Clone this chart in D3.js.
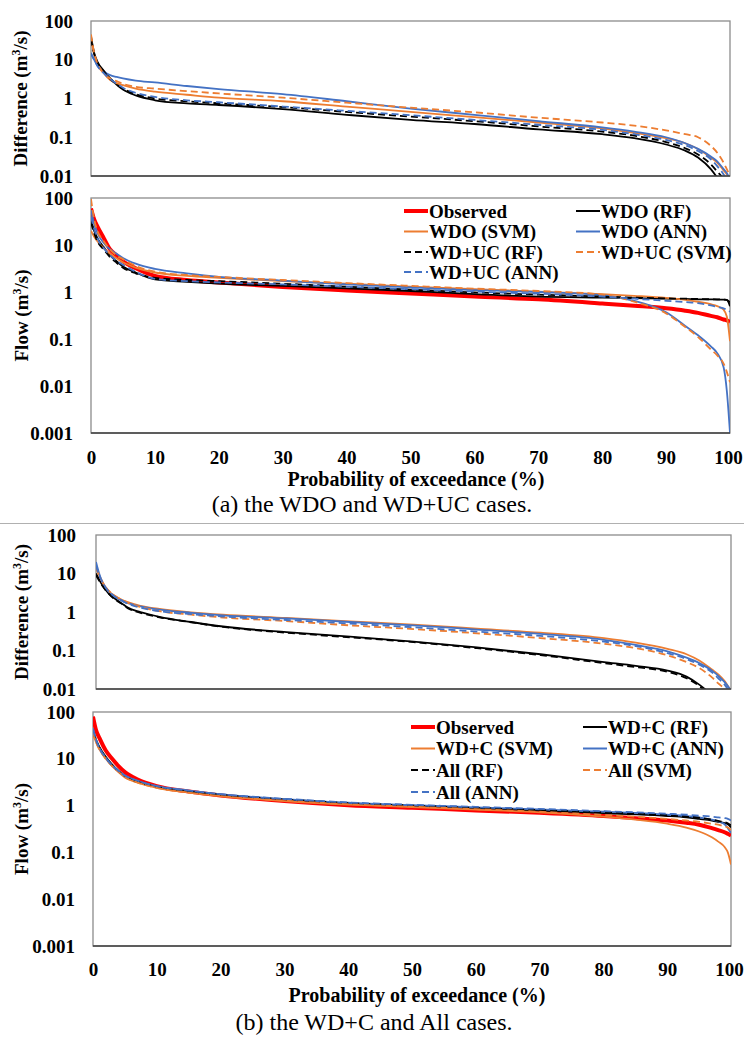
<!DOCTYPE html>
<html><head><meta charset="utf-8">
<script src="https://cdn.jsdelivr.net/npm/d3@7"></script>
<style>
html,body{margin:0;padding:0;background:#fff;}
svg{display:block;}
text{font-family:"Liberation Serif","Times New Roman",serif;}
</style></head>
<body>
<svg id="chart" width="744" height="1037"></svg>
<script>
// ---------- DATA ----------
const probs = [0, 0.5, 1, 2, 3, 4, 5, 7, 10, 15, 20, 30, 40, 50, 60, 70, 80, 85, 90, 93, 95, 97, 98, 99, 99.5, 100];
const xTicks = [0, 10, 20, 30, 40, 50, 60, 70, 80, 90, 100];
const diffTicks = [100, 10, 1, 0.1, 0.01];
const flowTicks = [100, 10, 1, 0.1, 0.01, 0.001];
const diffTickLabels = ["100", "10", "1", "0.1", "0.01"];
const flowTickLabels = ["100", "10", "1", "0.1", "0.01", "0.001"];

const legendA = ["Observed", "WDO (RF)", "WDO (SVM)", "WDO (ANN)", "WD+UC (RF)", "WD+UC (SVM)", "WD+UC (ANN)"];
const legendB = ["Observed", "WD+C (RF)", "WD+C (SVM)", "WD+C (ANN)", "All (RF)", "All (SVM)", "All (ANN)"];

// (a) difference
const aDiffWdoRF  = [40, 15, 9, 5.2, 3.3, 2.3, 1.7, 1.2, 0.9, 0.75, 0.68, 0.53, 0.38, 0.28, 0.22, 0.16, 0.12, 0.095, 0.065, 0.045, 0.03, 0.015, 0.009, 0.005, 0.004, 0.003];
const aDiffWdoSVM = [35, 14, 8, 4.5, 3.0, 2.5, 2.2, 1.8, 1.5, 1.25, 1.05, 0.85, 0.62, 0.45, 0.33, 0.24, 0.17, 0.13, 0.095, 0.07, 0.05, 0.03, 0.022, 0.014, 0.011, 0.008];
const aDiffWdoANN = [14, 10, 7, 5, 4, 3.6, 3.3, 2.9, 2.6, 2.1, 1.75, 1.3, 0.85, 0.55, 0.38, 0.26, 0.18, 0.14, 0.1, 0.07, 0.05, 0.032, 0.024, 0.015, 0.012, 0.008];
const aDiffUcRF   = [35, 14, 8.5, 5, 3.2, 2.3, 1.8, 1.3, 1.0, 0.85, 0.75, 0.6, 0.45, 0.34, 0.26, 0.19, 0.14, 0.11, 0.075, 0.052, 0.036, 0.02, 0.013, 0.008, 0.005, 0.003];
const aDiffUcSVM  = [45, 15, 8, 4.5, 3.3, 2.8, 2.4, 2.0, 1.8, 1.55, 1.35, 1.05, 0.78, 0.58, 0.44, 0.32, 0.24, 0.2, 0.15, 0.12, 0.1, 0.06, 0.04, 0.022, 0.015, 0.01];
const aDiffUcANN  = [15, 10, 7, 4.5, 3.2, 2.4, 1.9, 1.4, 1.1, 0.9, 0.8, 0.62, 0.48, 0.37, 0.28, 0.21, 0.155, 0.12, 0.085, 0.062, 0.044, 0.027, 0.018, 0.011, 0.008, 0.005];

// (a) flow
const aFlowObs    = [60, 35, 25, 14, 8, 6, 4.5, 3.2, 2.2, 1.8, 1.6, 1.28, 1.08, 0.93, 0.8, 0.7, 0.57, 0.51, 0.45, 0.4, 0.36, 0.31, 0.29, 0.26, 0.25, 0.23];
const aFlowWdoRF  = [35, 20, 14, 9, 6, 4.5, 3.5, 2.6, 1.85, 1.65, 1.5, 1.35, 1.2, 1.05, 0.9, 0.8, 0.76, 0.74, 0.72, 0.71, 0.7, 0.7, 0.69, 0.69, 0.68, 0.5];
const aFlowWdoSVM = [20, 15, 12, 8.5, 6.5, 5.2, 4.3, 3.3, 2.6, 2.2, 2.0, 1.7, 1.5, 1.3, 1.15, 1.02, 0.9, 0.83, 0.75, 0.68, 0.62, 0.55, 0.5, 0.42, 0.3, 0.09];
const aFlowWdoANN = [55, 28, 18, 11, 8, 6.5, 5.3, 4.0, 3.1, 2.5, 2.1, 1.75, 1.45, 1.25, 1.1, 1.0, 0.86, 0.65, 0.37, 0.19, 0.12, 0.07, 0.05, 0.025, 0.008, 0.001];
const aFlowUcRF   = [30, 18, 12, 8, 5.5, 4.2, 3.3, 2.5, 2.0, 1.8, 1.7, 1.5, 1.3, 1.12, 0.98, 0.88, 0.8, 0.76, 0.73, 0.72, 0.71, 0.7, 0.7, 0.69, 0.68, 0.6];
const aFlowUcSVM  = [95, 35, 20, 12, 8, 6, 5, 3.6, 2.7, 2.3, 2.1, 1.8, 1.55, 1.35, 1.18, 1.05, 0.88, 0.62, 0.35, 0.18, 0.11, 0.06, 0.045, 0.03, 0.02, 0.012];
const aFlowUcANN  = [40, 22, 14, 8.5, 6, 4.6, 3.8, 2.7, 1.9, 1.7, 1.6, 1.45, 1.3, 1.15, 1.02, 0.92, 0.8, 0.72, 0.65, 0.61, 0.58, 0.52, 0.48, 0.45, 0.42, 0.38];

// (b) difference
const bDiffCRF    = [10, 7, 5, 3, 2.2, 1.7, 1.3, 1.0, 0.75, 0.55, 0.42, 0.3, 0.23, 0.17, 0.12, 0.08, 0.05, 0.04, 0.03, 0.021, 0.013, 0.007, 0.005, 0.004, 0.003, 0.002];
const bDiffCSVM   = [15, 9, 6, 3.5, 2.6, 2.1, 1.8, 1.45, 1.2, 0.98, 0.85, 0.7, 0.57, 0.47, 0.37, 0.29, 0.21, 0.16, 0.11, 0.08, 0.055, 0.032, 0.024, 0.016, 0.012, 0.009];
const bDiffCANN   = [20, 10, 6, 3.4, 2.5, 2.0, 1.7, 1.4, 1.15, 0.95, 0.82, 0.68, 0.55, 0.45, 0.35, 0.27, 0.19, 0.14, 0.095, 0.065, 0.047, 0.03, 0.022, 0.015, 0.012, 0.009];
const bDiffAllRF  = [9, 6.5, 4.8, 3, 2.1, 1.65, 1.25, 0.95, 0.73, 0.54, 0.41, 0.29, 0.22, 0.165, 0.115, 0.076, 0.047, 0.037, 0.028, 0.019, 0.012, 0.006, 0.004, 0.003, 0.002, 0.002];
const bDiffAllSVM = [14, 9, 6, 3.6, 2.6, 2.1, 1.75, 1.35, 1.05, 0.85, 0.72, 0.58, 0.45, 0.36, 0.28, 0.21, 0.15, 0.115, 0.075, 0.05, 0.035, 0.02, 0.014, 0.01, 0.008, 0.006];
const bDiffAllANN = [16, 9, 6, 3.4, 2.5, 2.0, 1.65, 1.3, 1.05, 0.88, 0.76, 0.62, 0.5, 0.4, 0.31, 0.24, 0.17, 0.13, 0.085, 0.06, 0.043, 0.027, 0.019, 0.013, 0.01, 0.008];

// (b) flow
const bFlowObs    = [80, 40, 28, 15, 10, 7, 5.2, 3.6, 2.6, 2.0, 1.65, 1.25, 1.02, 0.9, 0.79, 0.7, 0.6, 0.54, 0.48, 0.43, 0.39, 0.33, 0.3, 0.27, 0.25, 0.23];
const bFlowCRF    = [40, 25, 18, 11, 7.5, 5.5, 4.3, 3.3, 2.5, 2.0, 1.7, 1.35, 1.12, 0.98, 0.87, 0.78, 0.69, 0.65, 0.6, 0.56, 0.52, 0.48, 0.45, 0.42, 0.4, 0.34];
const bFlowCSVM   = [35, 22, 16, 10, 7, 5.2, 4.0, 3.1, 2.4, 1.9, 1.6, 1.25, 1.05, 0.93, 0.82, 0.72, 0.58, 0.5, 0.41, 0.34, 0.28, 0.21, 0.17, 0.13, 0.1, 0.055];
const bFlowCANN   = [45, 25, 17, 10.5, 7.2, 5.5, 4.4, 3.4, 2.6, 2.1, 1.75, 1.38, 1.15, 1.02, 0.92, 0.83, 0.74, 0.7, 0.64, 0.6, 0.56, 0.5, 0.46, 0.4, 0.33, 0.26];
const bFlowAllRF  = [38, 24, 17, 10.5, 7.3, 5.4, 4.2, 3.2, 2.5, 2.0, 1.7, 1.35, 1.13, 1.0, 0.89, 0.8, 0.71, 0.67, 0.62, 0.58, 0.55, 0.5, 0.47, 0.44, 0.42, 0.38];
const bFlowAllSVM = [36, 22, 16, 10, 7, 5.3, 4.1, 3.1, 2.4, 1.9, 1.6, 1.28, 1.07, 0.95, 0.84, 0.74, 0.63, 0.58, 0.52, 0.48, 0.45, 0.41, 0.39, 0.36, 0.34, 0.3];
const bFlowAllANN = [42, 25, 17, 10.5, 7.2, 5.5, 4.4, 3.4, 2.6, 2.1, 1.75, 1.4, 1.17, 1.04, 0.94, 0.85, 0.76, 0.72, 0.67, 0.64, 0.61, 0.58, 0.56, 0.54, 0.52, 0.48];

// ---------- STYLES ----------
const RED = "#ff0000", BLACK = "#000000", ORANGE = "#ed7d31", BLUE = "#4472c4";
const styleObs = {color: RED, width: 4, dash: null};
const seriesStyles = [
  {color: BLACK, width: 1.8, dash: null},
  {color: ORANGE, width: 1.8, dash: null},
  {color: BLUE, width: 1.8, dash: null},
  {color: BLACK, width: 1.8, dash: "7,4"},
  {color: ORANGE, width: 1.8, dash: "7,4"},
  {color: BLUE, width: 1.8, dash: "7,4"}
];

const svg = d3.select("#chart");
const FONT = '"Liberation Serif","Times New Roman",serif';
let clipId = 0;

function panel(box, ticks, tickLabels, yTitle, seriesList, opts) {
  const x = d3.scaleLinear().domain([0, 100]).range([box.left, box.right]);
  const y = d3.scaleLog().domain([ticks[ticks.length - 1], ticks[0]]).range([box.bottom, box.top]);
  const id = "clip" + (clipId++);
  svg.append("clipPath").attr("id", id).append("rect")
    .attr("x", box.left).attr("y", box.top)
    .attr("width", box.right - box.left).attr("height", box.bottom - box.top);

  // frame
  svg.append("rect").attr("x", box.left).attr("y", box.top)
    .attr("width", box.right - box.left).attr("height", box.bottom - box.top)
    .attr("fill", "none").attr("stroke", "#8c8c8c").attr("stroke-width", 1.3);

  // y axis labels
  const yAxis = d3.axisLeft(y).tickValues(ticks).tickSize(0).tickPadding(0)
    .tickFormat((d, i) => tickLabels[i]);
  const gy = svg.append("g").attr("transform", `translate(${box.labelX},0)`).call(yAxis);
  gy.select(".domain").remove();
  gy.selectAll("text").attr("font-family", FONT).attr("font-size", 19).attr("font-weight", "bold")
    .attr("fill", "#000");

  // y title
  const t = svg.append("text")
    .attr("transform", `translate(${box.titleX},${(box.top + box.bottom) / 2}) rotate(-90)`)
    .attr("text-anchor", "middle").attr("dy", "0.35em")
    .attr("font-family", FONT).attr("font-size", 19).attr("font-weight", "bold");
  t.append("tspan").text(yTitle + " (m");
  t.append("tspan").attr("font-size", 12).attr("dy", "-0.55em").text("3");
  t.append("tspan").attr("dy", "0.35em").text("/s)");

  // lines
  const line = d3.line().x((d, i) => x(probs[i])).y(d => y(Math.max(d, 1e-5)))
    .curve(d3.curveMonotoneX);
  const g = svg.append("g").attr("clip-path", `url(#${id})`);
  seriesList.forEach(s => {
    g.append("path").datum(s.values).attr("d", line)
      .attr("fill", "none").attr("stroke", s.style.color)
      .attr("stroke-width", s.style.width)
      .attr("stroke-dasharray", s.style.dash)
      .attr("stroke-linejoin", "round");
  });

  // bottom axis line
  svg.append("line").attr("x1", box.left).attr("x2", box.right)
    .attr("y1", box.bottom).attr("y2", box.bottom)
    .attr("stroke", "#404040").attr("stroke-width", 1.3);

  if (opts && opts.xAxis) {
    const xAxis = d3.axisBottom(x).tickValues(xTicks).tickSize(0).tickPadding(0)
      .tickFormat(d => String(d));
    const gx = svg.append("g").attr("transform", `translate(0,${opts.xLabelY})`).call(xAxis);
    gx.select(".domain").remove();
    gx.selectAll("text").attr("font-family", FONT).attr("font-size", 19).attr("font-weight", "bold")
      .attr("fill", "#000").attr("dy", "0")
      .attr("dx", d => d === 100 ? -2 : 0);
    svg.append("text").attr("x", opts.xTitleX).attr("y", opts.xTitleY)
      .attr("text-anchor", "middle").attr("font-family", FONT).attr("font-size", 20)
      .attr("font-weight", "bold").text("Probability of exceedance (%)");
  }
  return {x, y};
}

function legend(names, styles, lg) {
  names.forEach((name, i) => {
    const col = i % 2, row = Math.floor(i / 2);
    const lx = lg.cols[col], ly = lg.rows[row];
    const st = styles[i];
    svg.append("line").attr("x1", lx).attr("x2", lx + lg.lineLen).attr("y1", ly).attr("y2", ly)
      .attr("stroke", st.color).attr("stroke-width", st.width === 4 ? 4 : 2)
      .attr("stroke-dasharray", st.dash);
    svg.append("text").attr("x", lx + lg.lineLen + 1).attr("y", ly).attr("dy", "0.35em")
      .attr("font-family", FONT).attr("font-size", 19).attr("font-weight", "bold").text(name);
  });
}

const allStyles = [styleObs].concat(seriesStyles);

// ---- (a) difference
panel({left: 91, right: 730, top: 21, bottom: 176, labelX: 73, titleX: 20},
  diffTicks, diffTickLabels, "Difference",
  [aDiffWdoRF, aDiffWdoSVM, aDiffWdoANN, aDiffUcRF, aDiffUcSVM, aDiffUcANN]
    .map((v, i) => ({values: v, style: seriesStyles[i]})));

// ---- (a) flow
panel({left: 91, right: 730, top: 198, bottom: 433, labelX: 73, titleX: 21},
  flowTicks, flowTickLabels, "Flow",
  [aFlowObs, aFlowWdoRF, aFlowWdoSVM, aFlowWdoANN, aFlowUcRF, aFlowUcSVM, aFlowUcANN]
    .map((v, i) => ({values: v, style: allStyles[i]})),
  {xAxis: true, xLabelY: 464, xTitleX: 416, xTitleY: 486});
legend(legendA, allStyles, {cols: [404, 576], rows: [211, 231.5, 252, 272], lineLen: 24});

svg.append("text").attr("x", 372).attr("y", 512).attr("text-anchor", "middle")
  .attr("font-family", FONT).attr("font-size", 24).text("(a) the WDO and WD+UC cases.");

// separator
svg.append("line").attr("x1", 0).attr("x2", 744).attr("y1", 523.5).attr("y2", 523.5)
  .attr("stroke", "#b0b0b0").attr("stroke-width", 1);

// ---- (b) difference
panel({left: 96, right: 731, top: 535, bottom: 689, labelX: 76, titleX: 21},
  diffTicks, diffTickLabels, "Difference",
  [bDiffCRF, bDiffCSVM, bDiffCANN, bDiffAllRF, bDiffAllSVM, bDiffAllANN]
    .map((v, i) => ({values: v, style: seriesStyles[i]})));

// ---- (b) flow
panel({left: 93, right: 731, top: 712, bottom: 946, labelX: 75, titleX: 21},
  flowTicks, flowTickLabels, "Flow",
  [bFlowObs, bFlowCRF, bFlowCSVM, bFlowCANN, bFlowAllRF, bFlowAllSVM, bFlowAllANN]
    .map((v, i) => ({values: v, style: allStyles[i]})),
  {xAxis: true, xLabelY: 976, xTitleX: 417, xTitleY: 1002});
legend(legendB, allStyles, {cols: [411, 583], rows: [727, 748.5, 770, 792], lineLen: 24});

svg.append("text").attr("x", 374).attr("y", 1030).attr("text-anchor", "middle")
  .attr("font-family", FONT).attr("font-size", 24).text("(b) the WD+C and All cases.");
</script>
</body></html>
